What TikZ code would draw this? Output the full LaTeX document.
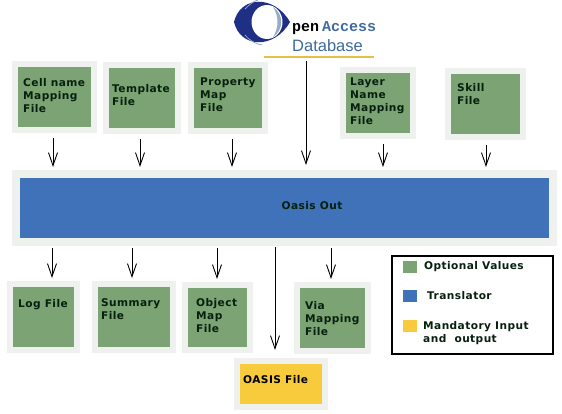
\documentclass[tikz,border=0pt]{standalone}
\usepackage{fontspec}
\setmainfont{DejaVu Sans}[LetterSpace=4]
\newfontfamily\logofont{Liberation Mono}
\newfontfamily\dbfont{Liberation Sans}
\usepackage{xcolor}
\usetikzlibrary{arrows.meta}
\definecolor{optgreen}{HTML}{7CA373}
\definecolor{transblue}{HTML}{3F72B8}
\definecolor{mandyellow}{HTML}{F8CB3C}
\definecolor{halo}{HTML}{EFF1EE}
\definecolor{logonavy}{HTML}{1F2F86}
\definecolor{logoblue}{HTML}{3F6A9C}
\definecolor{inktext}{HTML}{06200E}
\tikzset{
    filebox/.style={fill=optgreen,draw=halo,line width=6pt,inner sep=0pt},
    filetext/.style={anchor=north west,align=left,inner sep=0pt,font=\bfseries\fontsize{10.6}{13}\selectfont,text=inktext},
    keybox/.style={minimum width=14pt,minimum height=12pt,inner sep=0pt},
    flow/.style={-{Straight Barb[length=13pt,width=9pt]},line width=0.9pt,shorten <=5pt,shorten >=3pt}
}
\begin{document}
\begin{tikzpicture}[x=1pt,y=-1pt]
    \useasboundingbox (0,0) rectangle (562,414);
    % logo
    \fill[logonavy] (234,22) .. controls (240,-4) and (274,-6) .. (290,22) .. controls (274,50) and (240,48) .. cycle;
    \fill[white] (267,22) ellipse (15.5 and 17);
    \fill[logoblue!55] (273,7) .. controls (284,14) and (284,30) .. (273,37) .. controls (279,28) and (279,16) .. (273,7);
    \draw[logoblue!60,line width=0.8pt] (245,9) .. controls (250,4) and (254,1) .. (258,0);
    \draw[logoblue!60,line width=0.8pt] (245,35) .. controls (250,41) and (256,44) .. (262,45);
    \node[anchor=base west,inner sep=0pt,font=\logofont\bfseries\fontsize{15}{15}\selectfont] (logopen) at (292,32) {pen};
    \node[anchor=base west,inner sep=0pt,font=\logofont\bfseries\fontsize{15}{15}\selectfont,text=logoblue] (logoaccess) at (322,32) {Access};
    \node[anchor=base west,inner sep=0pt,font=\dbfont\fontsize{16.5}{16.5}\selectfont,text=logoblue] (dbtext) at (292,52) {Database};
    \node[fill=mandyellow!85!gray,minimum width=110pt,minimum height=2.5pt,inner sep=0pt] (dbline) at (319,57) {};
    % top row
    \node[filebox,minimum width=79pt,minimum height=66pt] (cellbox) at (54.5,97) {};
    \node[filebox,minimum width=72pt,minimum height=66pt] (templatebox) at (142,98) {};
    \node[filebox,minimum width=74pt,minimum height=66pt] (propertybox) at (228,98) {};
    \node[filebox,minimum width=70pt,minimum height=66pt] (layerbox) at (378,103) {};
    \node[filebox,minimum width=75pt,minimum height=66pt] (skillbox) at (485.5,104) {};
    \node[filetext] (celltext) at (23,78) {Cell name\\Mapping\\File};
    \node[filetext] (templatetext) at (112,84) {Template\\File};
    \node[filetext] (propertytext) at (200,78) {Property\\Map\\File};
    \node[filetext] (layertext) at (350,78) {Layer\\Name\\Mapping\\File};
    \node[filetext] (skilltext) at (457,83) {Skill\\File};
    % translator
    \node[fill=transblue,draw=halo,line width=8pt,inner sep=0pt,minimum width=537pt,minimum height=68pt] (oasisbox) at (284.5,208) {};
    \node[filetext,anchor=center] (oasistext) at (312,206) {Oasis Out};
    % bottom row
    \node[filebox,minimum width=67pt,minimum height=66pt] (logbox) at (43.5,317) {};
    \node[filebox,minimum width=78pt,minimum height=66pt] (summarybox) at (134,317) {};
    \node[filebox,minimum width=65pt,minimum height=65pt] (objectbox) at (217.5,317.5) {};
    \node[filebox,minimum width=71pt,minimum height=66pt] (viabox) at (332.5,318) {};
    \node[fill=mandyellow,draw=halo,line width=6pt,inner sep=0pt,minimum width=88pt,minimum height=46pt] (filebox) at (281,384) {};
    \node[filetext] (logtext) at (18,299) {Log File};
    \node[filetext] (summarytext) at (101,298) {Summary\\ File};
    \node[filetext] (objecttext) at (196,298) {Object\\Map\\File};
    \node[filetext] (viatext) at (305,301) {Via\\Mapping\\File};
    \node[filetext,text=black] (filetext) at (243,375) {OASIS File};
    % legend
    \node[draw=black,line width=1.6pt,minimum width=161pt,minimum height=98pt,inner sep=0pt] (legendbox) at (472.5,305) {};
    \node[keybox,fill=optgreen] (optkey) at (410,267) {};
    \node[keybox,fill=transblue] (transkey) at (410,296) {};
    \node[keybox,fill=mandyellow] (mandkey) at (410,326) {};
    \node[filetext,anchor=west] (opttext) at (424,267) {Optional Values};
    \node[filetext,anchor=west] (transtext) at (427,296) {Translator};
    \node[filetext] (mandtext) at (423,321) {Mandatory Input\\and\ \ output};
    % arrows
    \foreach \src/\dx in {cellbox/-1.5,templatebox/-2,propertybox/4,layerbox/5,skillbox/0.5}
        \draw[flow] ([xshift=\dx pt]\src.south) -- ([xshift=\dx pt]\src.south |- oasisbox.north);
    \draw[flow,shorten <=3pt,shorten >=5pt] ([xshift=-13pt]dbline.south) -- ([xshift=-13pt]dbline.south |- oasisbox.north);
    \foreach \dst/\dx in {logbox/8.5,summarybox/-2,objectbox/-0.5,viabox/-1.5}
        \draw[flow,shorten <=2pt,shorten >=3pt] ([xshift=\dx pt]\dst.north |- oasisbox.south) -- ([xshift=\dx pt]\dst.north);
    \draw[flow,shorten <=1pt,shorten >=8pt] ([xshift=-6pt]filebox.north |- oasisbox.south) -- ([xshift=-6pt]filebox.north);
\end{tikzpicture}
\end{document}
